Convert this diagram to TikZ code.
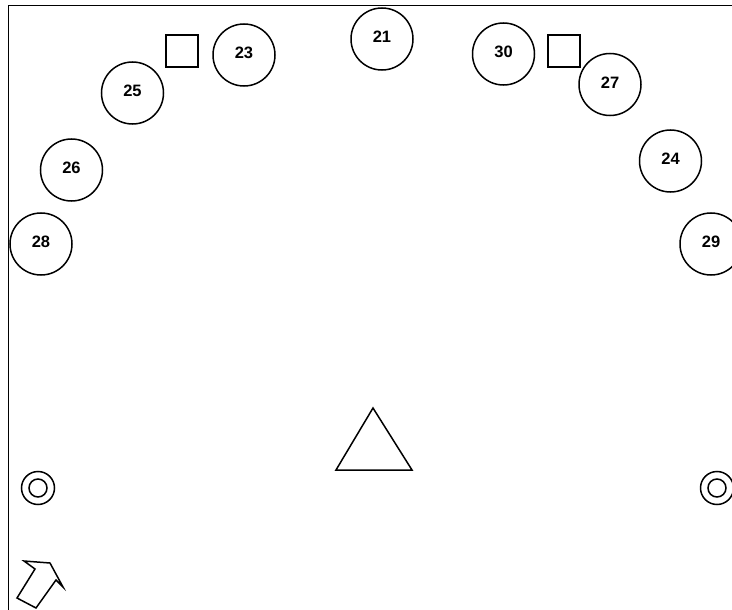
\documentclass[tikz,border=0pt]{standalone}
\usepackage{fontspec}
\setmainfont{Liberation Sans}
\begin{document}
\begin{tikzpicture}[x=1pt,y=-1pt,
  seat/.style={circle,draw,line width=1.5pt,minimum size=62pt,inner sep=0pt,font=\bfseries\fontsize{16.5}{16.5}\selectfont},
  box/.style={rectangle,draw,line width=1.5pt,minimum size=32pt,inner sep=0pt},
  shp/.style={line width=1.5pt}]
\useasboundingbox (0,0) rectangle (732,610);
\draw[line width=1pt] (8,610) -- (8,6) -- (732,6);
\node[seat] (n21) at (382,39) {\raisebox{5pt}{21}};
\node[seat] (n23) at (244,55) {\raisebox{4pt}{23}};
\node[seat] (n25) at (132.5,93) {\raisebox{4pt}{25}};
\node[seat] (n26) at (71.5,170) {\raisebox{5pt}{26}};
\node[seat] (n28) at (41,244) {\raisebox{4pt}{28}};
\node[seat] (n30) at (503.5,54) {\raisebox{4pt}{30}};
\node[seat] (n27) at (610,84.5) {\raisebox{4pt}{27}};
\node[seat] (n24) at (670.5,161) {\raisebox{4pt}{24}};
\node[seat] (n29) at (711,244) {\raisebox{4pt}{29}};
\node[box] (b1) at (182,51) {};
\node[box] (b2) at (564,51) {};
\draw[shp] (38,488) circle (16.5) (38,488) circle (9);
\draw[shp] (717,488) circle (16.5) (717,488) circle (9);
\draw[shp] (373,408) -- (412,470) -- (336,470) -- cycle;
\draw[shp,line join=miter] (50,563) -- (63,587) -- (56,580) -- (36,608) -- (17,598) -- (35,569) -- (24,561) -- cycle;
\end{tikzpicture}
\end{document}
